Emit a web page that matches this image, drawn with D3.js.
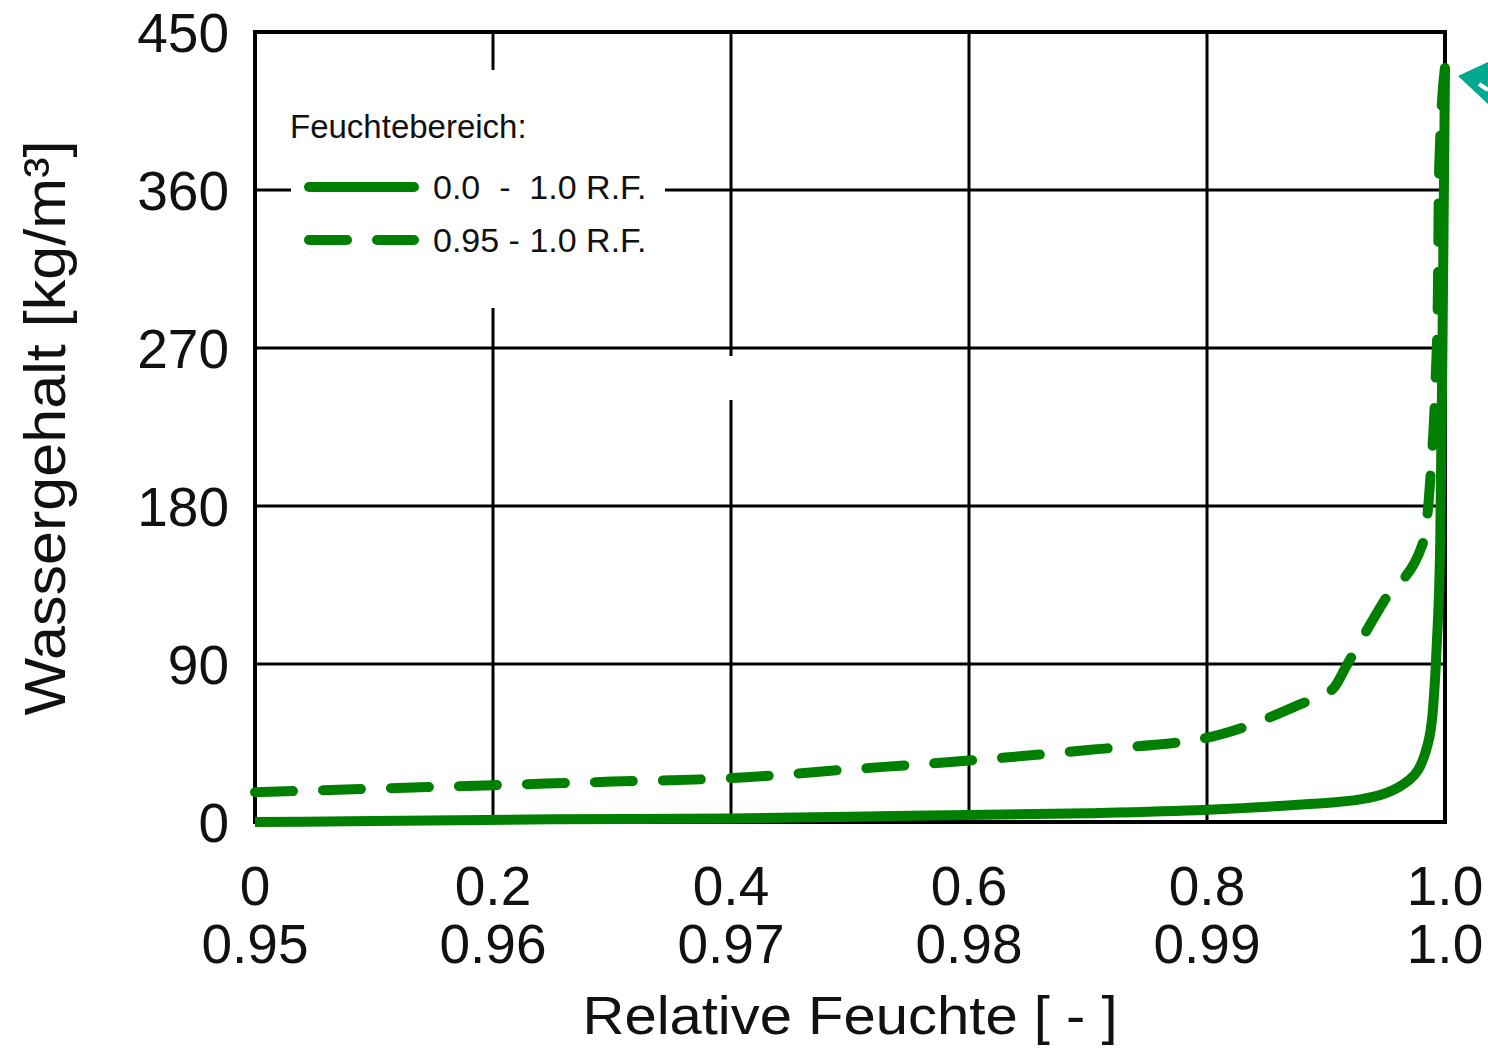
<!DOCTYPE html>
<html>
<head>
<meta charset="utf-8">
<script src="https://cdn.jsdelivr.net/npm/d3@7/dist/d3.min.js"></script>
<style>
  html, body { margin: 0; padding: 0; background: #fff; }
  svg { display: block; }
  text { font-family: "Liberation Sans", Arial, sans-serif; fill: #111; }
</style>
</head>
<body>
<svg id="chart" width="1488" height="1048"></svg>
<script>
// ---- data ----
const xTicksTop = [0, 0.2, 0.4, 0.6, 0.8, 1.0];
const xTickLabelsTop = ["0", "0.2", "0.4", "0.6", "0.8", "1.0"];
const xTicksBottom = [0.95, 0.96, 0.97, 0.98, 0.99, 1.0];
const xTickLabelsBottom = ["0.95", "0.96", "0.97", "0.98", "0.99", "1.0"];
const yTicks = [0, 90, 180, 270, 360, 450];

// series 1: 0.0 - 1.0 R.F. (top x labels)
const fullRH = [0, 0.1, 0.25, 0.4, 0.55, 0.7, 0.8, 0.88, 0.93, 0.97, 0.985, 0.99, 0.993, 0.996, 0.998, 1.0];
const fullW  = [0, 0.5, 1.5, 2, 3.5, 5, 7, 10, 13, 24, 43, 65, 100, 160, 280, 430];

// series 2: 0.95 - 1.0 R.F. (bottom x labels)
const zoomRH = [0.95, 0.955, 0.96, 0.965, 0.97, 0.975, 0.98, 0.985, 0.99, 0.9939, 0.9953, 0.9959, 0.9974, 0.9991, 0.9994, 0.9996, 0.9997, 0.99975, 1.0];
const zoomW  = [17, 19, 21, 23, 25, 30, 35, 41, 48, 67, 76, 90, 125, 160, 199, 250, 300, 370, 430];

const legendTitle = "Feuchtebereich:";
const seriesNames = ["0.0  -  1.0 R.F.", "0.95 - 1.0 R.F."];
const xTitle = "Relative Feuchte [ - ]";
const yTitle = "Wassergehalt [kg/m³]";

// ---- layout ----
const svg = d3.select("#chart");
const L = 255, R = 1445, T = 32, B = 822;
const green = "#007f00";

const x1 = d3.scaleLinear().domain([0, 1]).range([L, R]);
const x2 = d3.scaleLinear().domain([0.95, 1.0]).range([L, R]);
const y = d3.scaleLinear().domain([0, 450]).range([B, T]);

// grid
const grid = svg.append("g");
grid.selectAll("line.v").data(xTicksTop.slice(1, -1)).join("line")
  .attr("x1", d => x1(d)).attr("x2", d => x1(d))
  .attr("y1", T).attr("y2", B)
  .attr("stroke", "#000").attr("stroke-width", 3);
grid.selectAll("line.h").data(yTicks.slice(1, -1)).join("line")
  .attr("x1", L).attr("x2", R)
  .attr("y1", d => y(d)).attr("y2", d => y(d))
  .attr("stroke", "#000").attr("stroke-width", 3);
// small gap in one gridline, as in the source image
svg.append("rect").attr("x", x1(0.4) - 3).attr("y", 356).attr("width", 6).attr("height", 44).attr("fill", "#fff");

// frame
svg.append("rect").attr("x", L).attr("y", T).attr("width", R - L).attr("height", B - T)
  .attr("fill", "none").attr("stroke", "#000").attr("stroke-width", 4);

// legend background (covers grid)
svg.append("rect").attr("x", 291).attr("y", 70).attr("width", 374).attr("height", 238).attr("fill", "#fff");

// y tick labels
svg.append("g").selectAll("text").data(yTicks).join("text")
  .attr("x", 229).attr("y", d => y(d)).attr("dy", "0.36em")
  .attr("text-anchor", "end").attr("font-size", 55)
  .text(d => d);

// x tick labels
svg.append("g").selectAll("text").data(xTicksTop).join("text")
  .attr("x", d => x1(d)).attr("y", 905)
  .attr("text-anchor", "middle").attr("font-size", 55)
  .text((d, i) => xTickLabelsTop[i]);
svg.append("g").selectAll("text").data(xTicksBottom).join("text")
  .attr("x", d => x2(d)).attr("y", 963)
  .attr("text-anchor", "middle").attr("font-size", 55)
  .text((d, i) => xTickLabelsBottom[i]);

// axis titles
svg.append("text").attr("x", 850).attr("y", 1034)
  .attr("text-anchor", "middle").attr("font-size", 54)
  .attr("textLength", 535).attr("lengthAdjust", "spacingAndGlyphs")
  .text(xTitle);
svg.append("text").attr("transform", "translate(65,428) rotate(-90)")
  .attr("text-anchor", "middle").attr("font-size", 58)
  .attr("textLength", 575).attr("lengthAdjust", "spacingAndGlyphs")
  .text(yTitle);

// lines
const lineFull = d3.line().x(d => x1(d[0])).y(d => y(d[1])).curve(d3.curveMonotoneX);
const lineZoom = d3.line().x(d => x2(d[0])).y(d => y(d[1])).curve(d3.curveMonotoneX);

svg.append("path").datum(zoomRH.map((v, i) => [v, zoomW[i]]))
  .attr("d", lineZoom).attr("fill", "none").attr("stroke", green)
  .attr("stroke-width", 10).attr("stroke-linecap", "round").attr("stroke-linejoin", "round")
  .attr("stroke-dasharray", "38,30");
svg.append("path").datum(fullRH.map((v, i) => [v, fullW[i]]))
  .attr("d", lineFull).attr("fill", "none").attr("stroke", green)
  .attr("stroke-width", 10).attr("stroke-linecap", "butt").attr("stroke-linejoin", "round");

// legend
svg.append("text").attr("x", 290).attr("y", 138).attr("font-size", 33).text(legendTitle);
svg.append("line").attr("x1", 309).attr("x2", 414).attr("y1", 187).attr("y2", 187)
  .attr("stroke", green).attr("stroke-width", 10).attr("stroke-linecap", "round");
svg.append("line").attr("x1", 309).attr("x2", 414).attr("y1", 240).attr("y2", 240)
  .attr("stroke", green).attr("stroke-width", 10).attr("stroke-linecap", "round")
  .attr("stroke-dasharray", "38,30");
svg.append("text").attr("x", 433).attr("y", 199).attr("font-size", 34)
  .style("white-space", "pre").text(seriesNames[0]);
svg.append("text").attr("x", 433).attr("y", 252).attr("font-size", 34)
  .style("white-space", "pre").text(seriesNames[1]);

// teal arrow head at top right
svg.append("path").attr("d", "M1458,76 L1488,62 L1488,104 Z").attr("fill", "#00a88f");
svg.append("line").attr("x1", 1479).attr("y1", 84).attr("x2", 1488).attr("y2", 90)
  .attr("stroke", "#fff").attr("stroke-width", 4);
</script>
</body>
</html>
